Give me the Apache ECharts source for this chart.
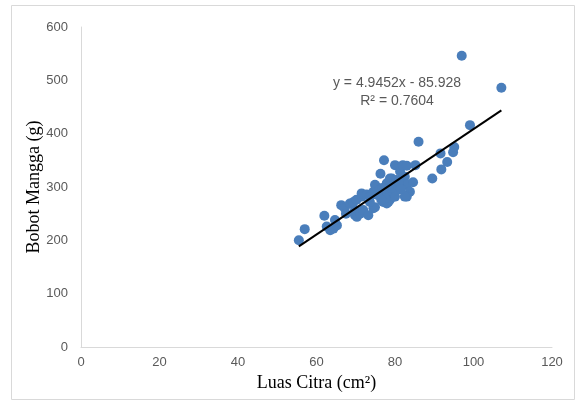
<!DOCTYPE html>
<html>
<head>
<meta charset="utf-8">
<script src="https://cdn.jsdelivr.net/npm/echarts@6/dist/echarts.min.js"></script>
<style>html,body{margin:0;padding:0;background:#fff}#c{width:579px;height:405px}</style>
</head>
<body>
<div id="c"></div>
<script>
const xValues = [55.5,57,62,62.6,63.5,64.3,65.2,64.7,66.3,67.2,67.5,68.5,69.8,69.8,70.3,71.1,69.4,70.2,71.5,71.5,72.8,71.9,73.2,74.5,74.9,73.6,73.6,74.5,74.9,75.3,76.2,76.2,77,77,78.3,77.9,78.7,79.6,79.6,80,77.9,78.7,79.2,80.4,79.6,80.4,81.3,82.1,82.5,80.4,83,83.8,83,82.5,76,78,79,81,78.5,77.5,76.5,81.5,75.5,76.8,80,81.3,76.3,77.2,82,83,85.2,84.6,86,89.5,91.6,91.8,93.3,94.8,95.1,99.1,97,107.1];
const yValues = [200,221,246,226,219,222,228,238,266,260,250,269,247,257,244,250,272,276,282,288,286,257,247,260,262,272,282,291,304,300,288,285,282,272,272,269,276,282,288,282,307,316,316,313,300,300,300,319,319,294,304,291,282,282,295,292,298,310,302,279,276,296,285,298,341,329,325,350,341,340,341,309,385,316,363,333,347,365,375,416,546,486];
const slope = 4.9452, intercept = -85.928;
const equationText = 'y = 4.9452x - 85.928';
const r2Text = 'R² = 0.7604';
const xTicks = [0,20,40,60,80,100,120];
const yTicks = [0,100,200,300,400,500,600];

const points = xValues.map((x,i)=>[x,yValues[i]]);
const xmin = Math.min(...xValues), xmax = Math.max(...xValues);
const trend = [[xmin, slope*xmin+intercept],[xmax, slope*xmax+intercept]];

const chart = echarts.init(document.getElementById('c'));
const tickFont = {color:'#595959', fontSize:13, fontFamily:'Liberation Sans, Arial, sans-serif'};
chart.setOption({
  animation:false,
  grid:{left:81, right:27, top:27, bottom:58},
  xAxis:{type:'value', min:xTicks[0], max:xTicks[xTicks.length-1], interval:20,
    axisLine:{show:true, onZero:false, lineStyle:{color:'#d9d9d9', width:1}},
    axisTick:{show:false}, splitLine:{show:false},
    axisLabel:Object.assign({margin:9}, tickFont),
    name:'Luas Citra (cm²)', nameLocation:'middle', nameGap:27,
    nameTextStyle:{color:'#000', fontSize:18, fontFamily:'Liberation Serif, Times New Roman, serif'}},
  yAxis:{type:'value', min:yTicks[0], max:yTicks[yTicks.length-1], interval:100,
    axisLine:{show:true, onZero:false, lineStyle:{color:'#d9d9d9', width:1}},
    axisTick:{show:false}, splitLine:{show:false},
    axisLabel:Object.assign({margin:13}, tickFont),
    name:'Bobot Mangga (g)', nameLocation:'middle', nameGap:38, nameRotate:90, nameMoveOverlap:false,
    nameTextStyle:{color:'#000', fontSize:18, fontFamily:'Liberation Serif, Times New Roman, serif'}},
  graphic:[
    {type:'rect', shape:{x:11.5,y:5.5,width:563,height:394}, style:{fill:'none', stroke:'#d9d9d9', lineWidth:1}, silent:true, z:-1},
    {type:'text', x:397, y:83, style:{text:equationText, textAlign:'center', textVerticalAlign:'middle', fill:'#595959', fontSize:14, fontFamily:'Liberation Sans, Arial, sans-serif'}},
    {type:'text', x:397, y:101, style:{text:r2Text, textAlign:'center', textVerticalAlign:'middle', fill:'#595959', fontSize:14, fontFamily:'Liberation Sans, Arial, sans-serif'}}
  ],
  series:[
    {type:'scatter', data:points, symbolSize:10, itemStyle:{color:'#4a7ebb', opacity:1}, z:2},
    {type:'line', data:trend, symbol:'none', lineStyle:{color:'#000', width:2}, z:3}
  ]
});
</script>
</body>
</html>
